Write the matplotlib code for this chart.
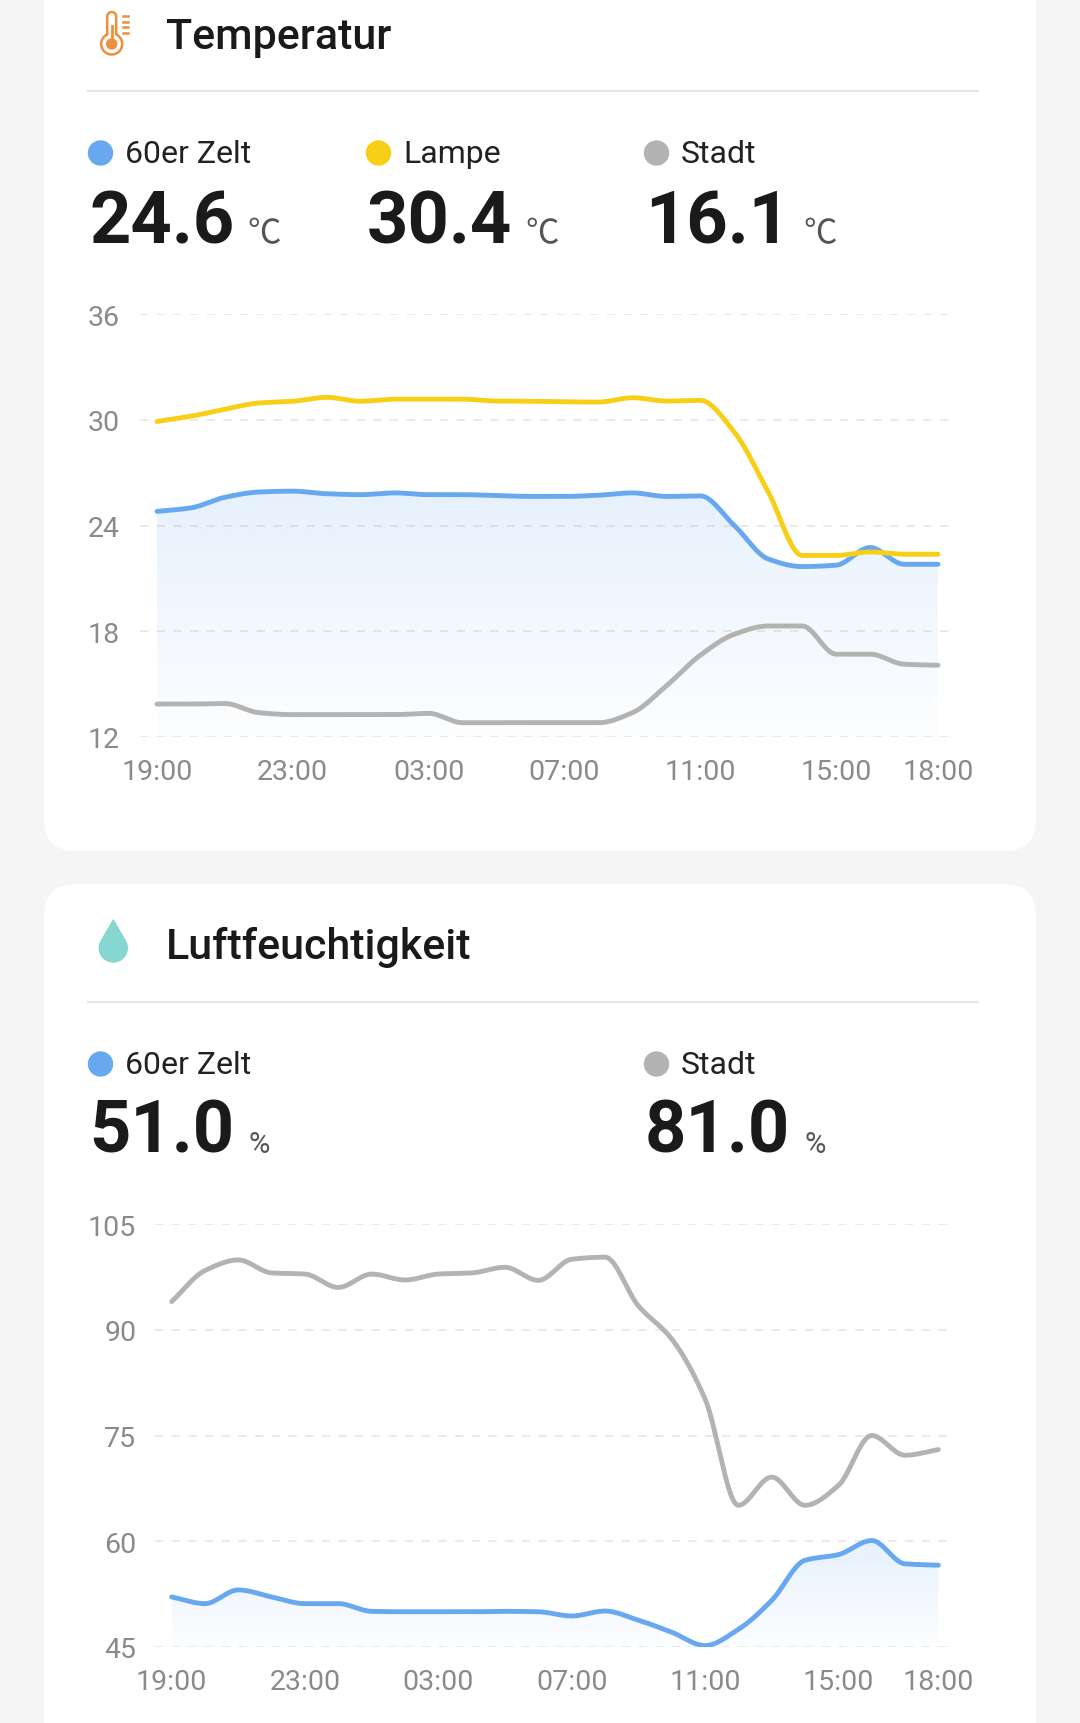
import numpy as np
import matplotlib
matplotlib.use('Agg')
import matplotlib.pyplot as plt
import matplotlib.colors as mcolors
from matplotlib.patches import FancyBboxPatch, Circle, Polygon

plt.rcParams['font.family'] = ['Roboto', 'DejaVu Sans']

W, H = 1080, 1724

# Stundenwerte 19:00 .. 18:00
hours = ['19:00', '20:00', '21:00', '22:00', '23:00', '00:00', '01:00', '02:00',
         '03:00', '04:00', '05:00', '06:00', '07:00', '08:00', '09:00', '10:00',
         '11:00', '12:00', '13:00', '14:00', '15:00', '16:00', '17:00', '18:00']
tick_labels = ['19:00', '23:00', '03:00', '07:00', '11:00', '15:00', '18:00']

# Temperatur
temp_zelt = [24.8, 25.0, 25.6, 25.9, 25.95, 25.8, 25.75, 25.85, 25.75, 25.75, 25.7, 25.65,
             25.65, 25.72, 25.85, 25.65, 25.68, 24.0, 22.1, 21.67, 21.75, 22.75, 21.8, 21.8]
temp_lampe = [29.9, 30.2, 30.6, 30.95, 31.05, 31.27, 31.05, 31.17, 31.17, 31.17, 31.06, 31.05,
              31.02, 31.0, 31.25, 31.06, 31.1, 29.3, 25.9, 22.3, 22.3, 22.5, 22.37, 22.37]
temp_stadt = [13.87, 13.87, 13.9, 13.38, 13.27, 13.27, 13.27, 13.27, 13.34, 12.81, 12.81, 12.81,
              12.81, 12.81, 13.38, 14.9, 16.64, 17.83, 18.3, 18.3, 16.7, 16.7, 16.13, 16.07]
temp_current = ['24.6', '30.4', '16.1']
temp_names = ['60er Zelt', 'Lampe', 'Stadt']

# Luftfeuchtigkeit
hum_zelt = [52.1, 51.15, 53.1, 52.1, 51.15, 51.15, 50.06, 50.0, 50.0, 50.0, 50.06, 50.0,
            49.4, 50.1, 48.8, 47.1, 45.2, 47.5, 51.6, 57.3, 58.1, 60.1, 56.8, 56.6]
hum_stadt = [94.0, 98.4, 99.9, 98.06, 97.9, 96.0, 97.9, 97.06, 97.9, 98.06, 98.86, 97.0,
             100.0, 100.3, 93.4, 88.7, 80.2, 65.1, 69.1, 65.1, 67.9, 75.0, 72.2, 73.0]
hum_current = ['51.0', '81.0']
hum_names = ['60er Zelt', 'Stadt']

BLUE = '#68a8f0'
YELLOW = '#f7cf17'
GRAY = '#b3b3b3'
TICK = '#8a8a8a'


def smooth(x, y, n=24):
    # monotone kubische Interpolation nur fuer die Darstellung der Linie
    x = np.asarray(x, float)
    y = np.asarray(y, float)
    h = np.diff(x)
    d = np.diff(y) / h
    m = np.zeros_like(y)
    m[0], m[-1] = d[0], d[-1]
    for i in range(1, len(y) - 1):
        if d[i - 1] * d[i] > 0:
            m[i] = 2 / (1 / d[i - 1] + 1 / d[i])
    xs, ys = [], []
    for i in range(len(h)):
        t = np.linspace(0, 1, n, endpoint=False)
        h00 = 2 * t**3 - 3 * t**2 + 1
        h10 = t**3 - 2 * t**2 + t
        h01 = -2 * t**3 + 3 * t**2
        h11 = t**3 - t**2
        xs.append(x[i] + t * h[i])
        ys.append(h00 * y[i] + h10 * h[i] * m[i] + h01 * y[i + 1] + h11 * h[i] * m[i + 1])
    xs.append([x[-1]])
    ys.append([y[-1]])
    return np.concatenate(xs), np.concatenate(ys)


def px_axes(fig, x0, y0, x1, y1):
    return fig.add_axes([x0 / W, 1 - y1 / H, (x1 - x0) / W, (y1 - y0) / H])


def gradient_fill(ax, x, y, ybottom, color, a_top, a_bot):
    poly = Polygon(np.column_stack([np.r_[x[0], x, x[-1]], np.r_[ybottom, y, ybottom]]),
                   closed=True, facecolor='none', edgecolor='none', transform=ax.transData)
    ax.add_patch(poly)
    grad = np.zeros((200, 1, 4))
    grad[:, :, :3] = mcolors.to_rgb(color)
    grad[:, 0, 3] = np.linspace(a_top, a_bot, 200)
    im = ax.imshow(grad, aspect='auto', origin='upper', zorder=1,
                   extent=[x.min(), x.max(), ybottom, y.max()], interpolation='bilinear')
    im.set_clip_path(poly)


def style_chart(ax, yticks, ypad):
    ax.set_xlim(-0.5, len(hours) - 0.5)
    ax.set_ylim(yticks[0], yticks[-1])
    ax.set_yticks(yticks)
    ax.set_xticks([0, 4, 8, 12, 16, 20, 23])
    ax.set_xticklabels(tick_labels)
    for v in yticks:
        ax.axhline(v, color='#e6e6e6', lw=1.2, ls=(0, (5, 5)), zorder=0)
    for s in ax.spines.values():
        s.set_visible(False)
    ax.tick_params(length=0, labelsize=20.5, labelcolor=TICK)
    ax.tick_params(axis='y', pad=ypad)
    ax.tick_params(axis='x', pad=15)
    ax.patch.set_alpha(0)


fig = plt.figure(figsize=(W / 100, H / 100), dpi=100)
fig.patch.set_facecolor('#f5f5f5')
bg = fig.add_axes([0, 0, 1, 1])
bg.set_xlim(0, W)
bg.set_ylim(H, 0)
bg.axis('off')

# Karten
for top, bottom in [(-60, 852), (885, H + 60)]:
    bg.add_patch(FancyBboxPatch((44, top), 992, bottom - top,
                                boxstyle='round,pad=0,rounding_size=32',
                                facecolor='white', edgecolor='none'))

# Thermometer-Symbol
orange = '#ef8e3c'
cx, cy, r, hw = 111.7, 45.0, 10.5, 4.5
a0 = np.arcsin(hw / r)
yj = cy - np.sqrt(r**2 - hw**2)
arc_top = np.linspace(np.pi, 0, 20)
arc_bulb = np.linspace(a0, 2 * np.pi - a0, 60)
tx = np.r_[cx - hw, cx + hw * np.cos(arc_top), cx + hw, cx + r * np.sin(arc_bulb)]
ty = np.r_[yj, 17.5 - hw * np.sin(arc_top), yj, cy - r * np.cos(arc_bulb)]
bg.plot(tx, ty, color=orange, lw=1.8, solid_capstyle='round')
bg.plot([cx, cx], [27, 44], color=orange, lw=2.0)
bg.add_patch(Circle((cx, cy), 5.0, color=orange))
for yy in [17, 22.7, 28.3, 34]:
    bg.plot([123, 128], [yy, yy], color=orange, lw=1.8)

# Tropfen-Symbol
dcx, dcy, dr, tip = 113.3, 949.0, 14.0, 921.0
th = np.arccos(dr / (dcy - tip))
alpha = np.linspace(th, 2 * np.pi - th, 80)
dx = np.r_[dcx, dcx + dr * np.sin(alpha)]
dy = np.r_[tip, dcy - dr * np.cos(alpha)]
bg.add_patch(Polygon(np.column_stack([dx, dy]), closed=True, facecolor='#86d6d1',
                     edgecolor='#86d6d1', lw=1, joinstyle='round'))

# Ueberschriften und Trennlinien
bg.text(166, 49, 'Temperatur', fontsize=31, fontweight='medium', color='#1a1a1a', va='baseline')
bg.text(166, 959, 'Luftfeuchtigkeit', fontsize=31, fontweight='medium', color='#1a1a1a', va='baseline')
bg.plot([88, 978], [92, 92], color='#e6e6e6', lw=1.5)
bg.plot([88, 978], [1003, 1003], color='#e6e6e6', lw=1.5)

# aktuelle Werte
for name, val, col, x in zip(temp_names, temp_current, [BLUE, YELLOW, GRAY], [88, 366, 644]):
    bg.add_patch(Circle((x + 12.5, 154), 12, color=col))
    bg.text(x + 37, 163, name, fontsize=23, color='#222222', va='baseline')
    bg.text(x + 1, 243, val, fontsize=52, fontweight='bold', color='#1a1a1a', va='baseline')
    bg.text(x + 159, 243, '℃', fontsize=24, color='#555555', va='baseline',
            family=['Noto Sans CJK SC', 'DejaVu Sans'])

for name, val, col, x in zip(hum_names, hum_current, [BLUE, GRAY], [88, 644]):
    bg.add_patch(Circle((x + 12.5, 1065), 12, color=col))
    bg.text(x + 37, 1074, name, fontsize=23, color='#222222', va='baseline')
    bg.text(x + 1, 1153, val, fontsize=52, fontweight='bold', color='#1a1a1a', va='baseline')
    bg.text(x + 160, 1153, '%', fontsize=21, color='#555555', va='baseline')

xh = np.arange(len(hours))

# Diagramm Temperatur
ax1 = px_axes(fig, 140, 315, 955, 738)
sx, sy = smooth(xh, temp_zelt)
gradient_fill(ax1, sx, sy, 12, '#5aa2f0', 0.15, 0.015)
ax1.plot(sx, sy, color=BLUE, lw=3.5, zorder=3, solid_capstyle='round')
sx, sy = smooth(xh, temp_stadt)
ax1.plot(sx, sy, color=GRAY, lw=3.5, zorder=3, solid_capstyle='round')
sx, sy = smooth(xh, temp_lampe)
ax1.plot(sx, sy, color=YELLOW, lw=3.5, zorder=4, solid_capstyle='round')
style_chart(ax1, [12, 18, 24, 30, 36], 14.5)

# Diagramm Luftfeuchtigkeit
ax2 = px_axes(fig, 155, 1225, 955, 1648)
sx, sy = smooth(xh, hum_zelt)
gradient_fill(ax2, sx, sy, 45, '#5aa2f0', 0.15, 0.015)
ax2.plot(sx, sy, color=BLUE, lw=3.5, zorder=3, solid_capstyle='round')
sx, sy = smooth(xh, hum_stadt)
ax2.plot(sx, sy, color=GRAY, lw=3.5, zorder=3, solid_capstyle='round')
style_chart(ax2, [45, 60, 75, 90, 105], 13.5)

fig.savefig('out.png', dpi=100, facecolor=fig.get_facecolor())
